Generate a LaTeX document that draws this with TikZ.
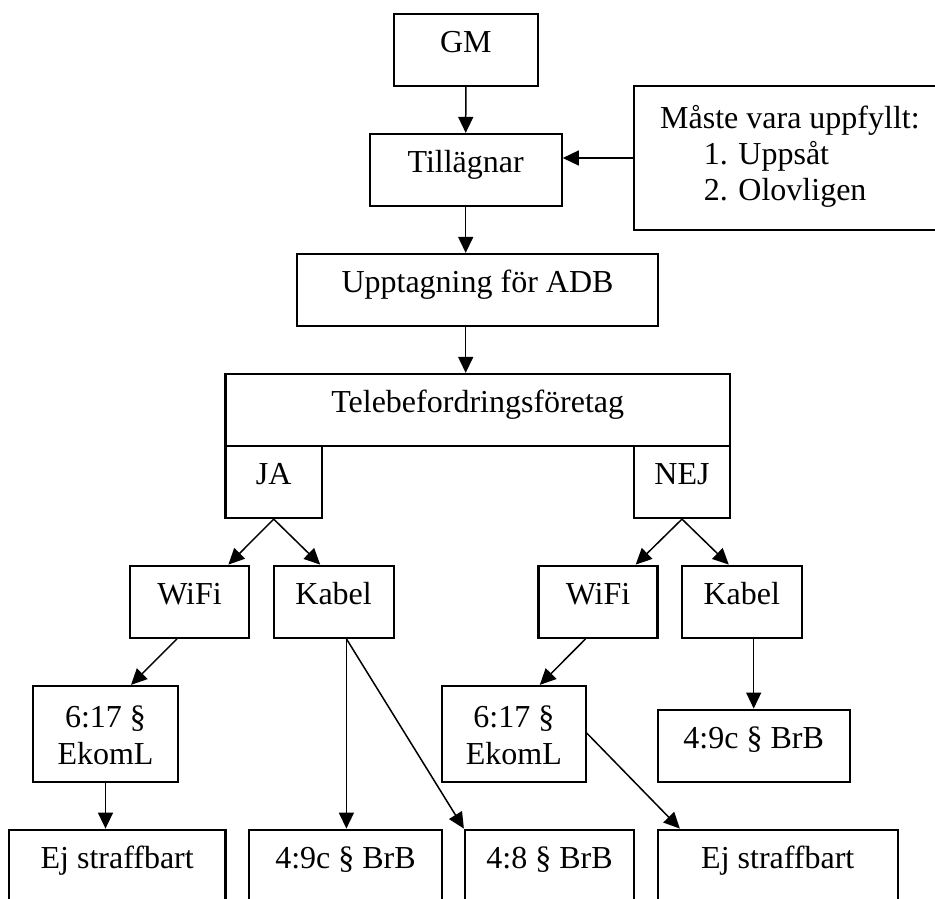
\documentclass[tikz,border=0pt]{standalone}
\usepackage{fontspec}
\setmainfont{Liberation Serif}
\usetikzlibrary{arrows.meta}
\begin{document}
\begin{tikzpicture}[x=1pt,y=-1pt,
  bx/.style={draw, line width=2.2pt, inner sep=0pt, text height=0.65em, text depth=0.15em, font=\fontsize{32}{37}\selectfont},
  txt/.style={inner sep=0pt, font=\fontsize{32}{37}\selectfont},
  arr/.style={line width=1.5pt, -{Triangle[length=16pt,width=15pt]}}]
\useasboundingbox (0,0) rectangle (935,898);
\clip (0,0) rectangle (935,898);
% boxes
\node[bx, minimum width=144.4pt, minimum height=72pt] (gm) at (465.8,50) {GM};
\node[bx, minimum width=192pt, minimum height=72pt] (till) at (465.7,170) {Tillägnar};
\node[bx, minimum width=311pt, minimum height=144pt] (mv) at (789.5,158) {};
\node[txt, anchor=base west] (mv1) at (660,128) {Måste vara uppfyllt:};
\node[txt, anchor=base west] (mv2) at (703.6,164) {1. Uppsåt};
\node[txt, anchor=base west] (mv3) at (703.6,200.5) {2. Olovligen};
\node[bx, minimum width=361pt, minimum height=72pt] (upp) at (477.5,290) {Upptagning för ADB};
\node[bx, minimum width=504.6pt, minimum height=72pt] (tele) at (477.7,410) {Telebefordringsföretag};
\node[bx, minimum width=96.6pt, minimum height=72pt] (ja) at (273.7,482) {JA};
\node[bx, minimum width=96pt, minimum height=72pt] (nej) at (682,482) {NEJ};
\node[bx, minimum width=119pt, minimum height=72pt] (wifi1) at (189.5,601.7) {WiFi};
\node[bx, minimum width=120pt, minimum height=72pt] (kabel1) at (333.6,601.7) {Kabel};
\node[bx, minimum width=119pt, minimum height=72pt] (wifi2) at (598,601.7) {WiFi};
\node[bx, minimum width=120pt, minimum height=72pt] (kabel2) at (741.8,601.7) {Kabel};
\node[bx, minimum width=144.3pt, minimum height=96pt] (ek1) at (105.5,734) {};
\node[txt, anchor=base] (ek1a) at (105.5,727.5) {6:17 §};
\node[txt, anchor=base] (ek1b) at (105.5,764) {EkomL};
\node[bx, minimum width=143.6pt, minimum height=96pt] (ek2) at (513.8,734) {};
\node[txt, anchor=base] (ek2a) at (513.8,727.5) {6:17 §};
\node[txt, anchor=base] (ek2b) at (513.8,764) {EkomL};
\node[bx, minimum width=192pt, minimum height=72.3pt] (brb9c2) at (753.7,745.8) {4:9c § BrB};
\node[bx, minimum width=216.4pt, minimum height=72pt] (ej1) at (117.2,865.7) {Ej straffbart};
\node[bx, minimum width=193pt, minimum height=72pt] (brb9c1) at (345.5,865.7) {4:9c § BrB};
\node[bx, minimum width=169pt, minimum height=72pt] (brb8) at (549.5,865.7) {4:8 § BrB};
\node[bx, minimum width=240.3pt, minimum height=72pt] (ej2) at (777.8,865.7) {Ej straffbart};
% connectors
\draw[arr] (gm) -- (till);
\draw[arr] (mv.west) -- (till.east |- mv.west);
\draw[arr] (till.south) -- (till.south |- upp.north);
\draw[arr] (till.south |- upp.south) -- (till.south |- tele.north);
\draw[arr] (ja.south) -- ([xshift=38.9pt]wifi1.north);
\draw[arr] (ja.south) -- ([xshift=-13.4pt]kabel1.north);
\draw[arr] (nej.south) -- ([xshift=37.7pt]wifi2.north);
\draw[arr] (nej.south) -- ([xshift=-13pt]kabel2.north);
\draw[arr] ([xshift=-12.5pt]wifi1.south) -- ([xshift=25.5pt]ek1.north);
\draw[arr] (ek1.south) -- (ek1.south |- ej1.north);
\path ([xshift=12.8pt]kabel1.south) coordinate (k1s);
\draw[arr] (k1s) -- (k1s |- brb9c1.north);
\draw[arr] (k1s) -- (brb8.north west);
\draw[arr] ([xshift=-12.4pt]wifi2.south) -- ([xshift=26pt]ek2.north);
\draw[arr] ([yshift=1pt]ek2.east) -- ([xshift=23.3pt]ej2.north west);
\draw[arr] (brb9c2.north |- kabel2.south) -- (brb9c2.north);
\end{tikzpicture}
\end{document}
